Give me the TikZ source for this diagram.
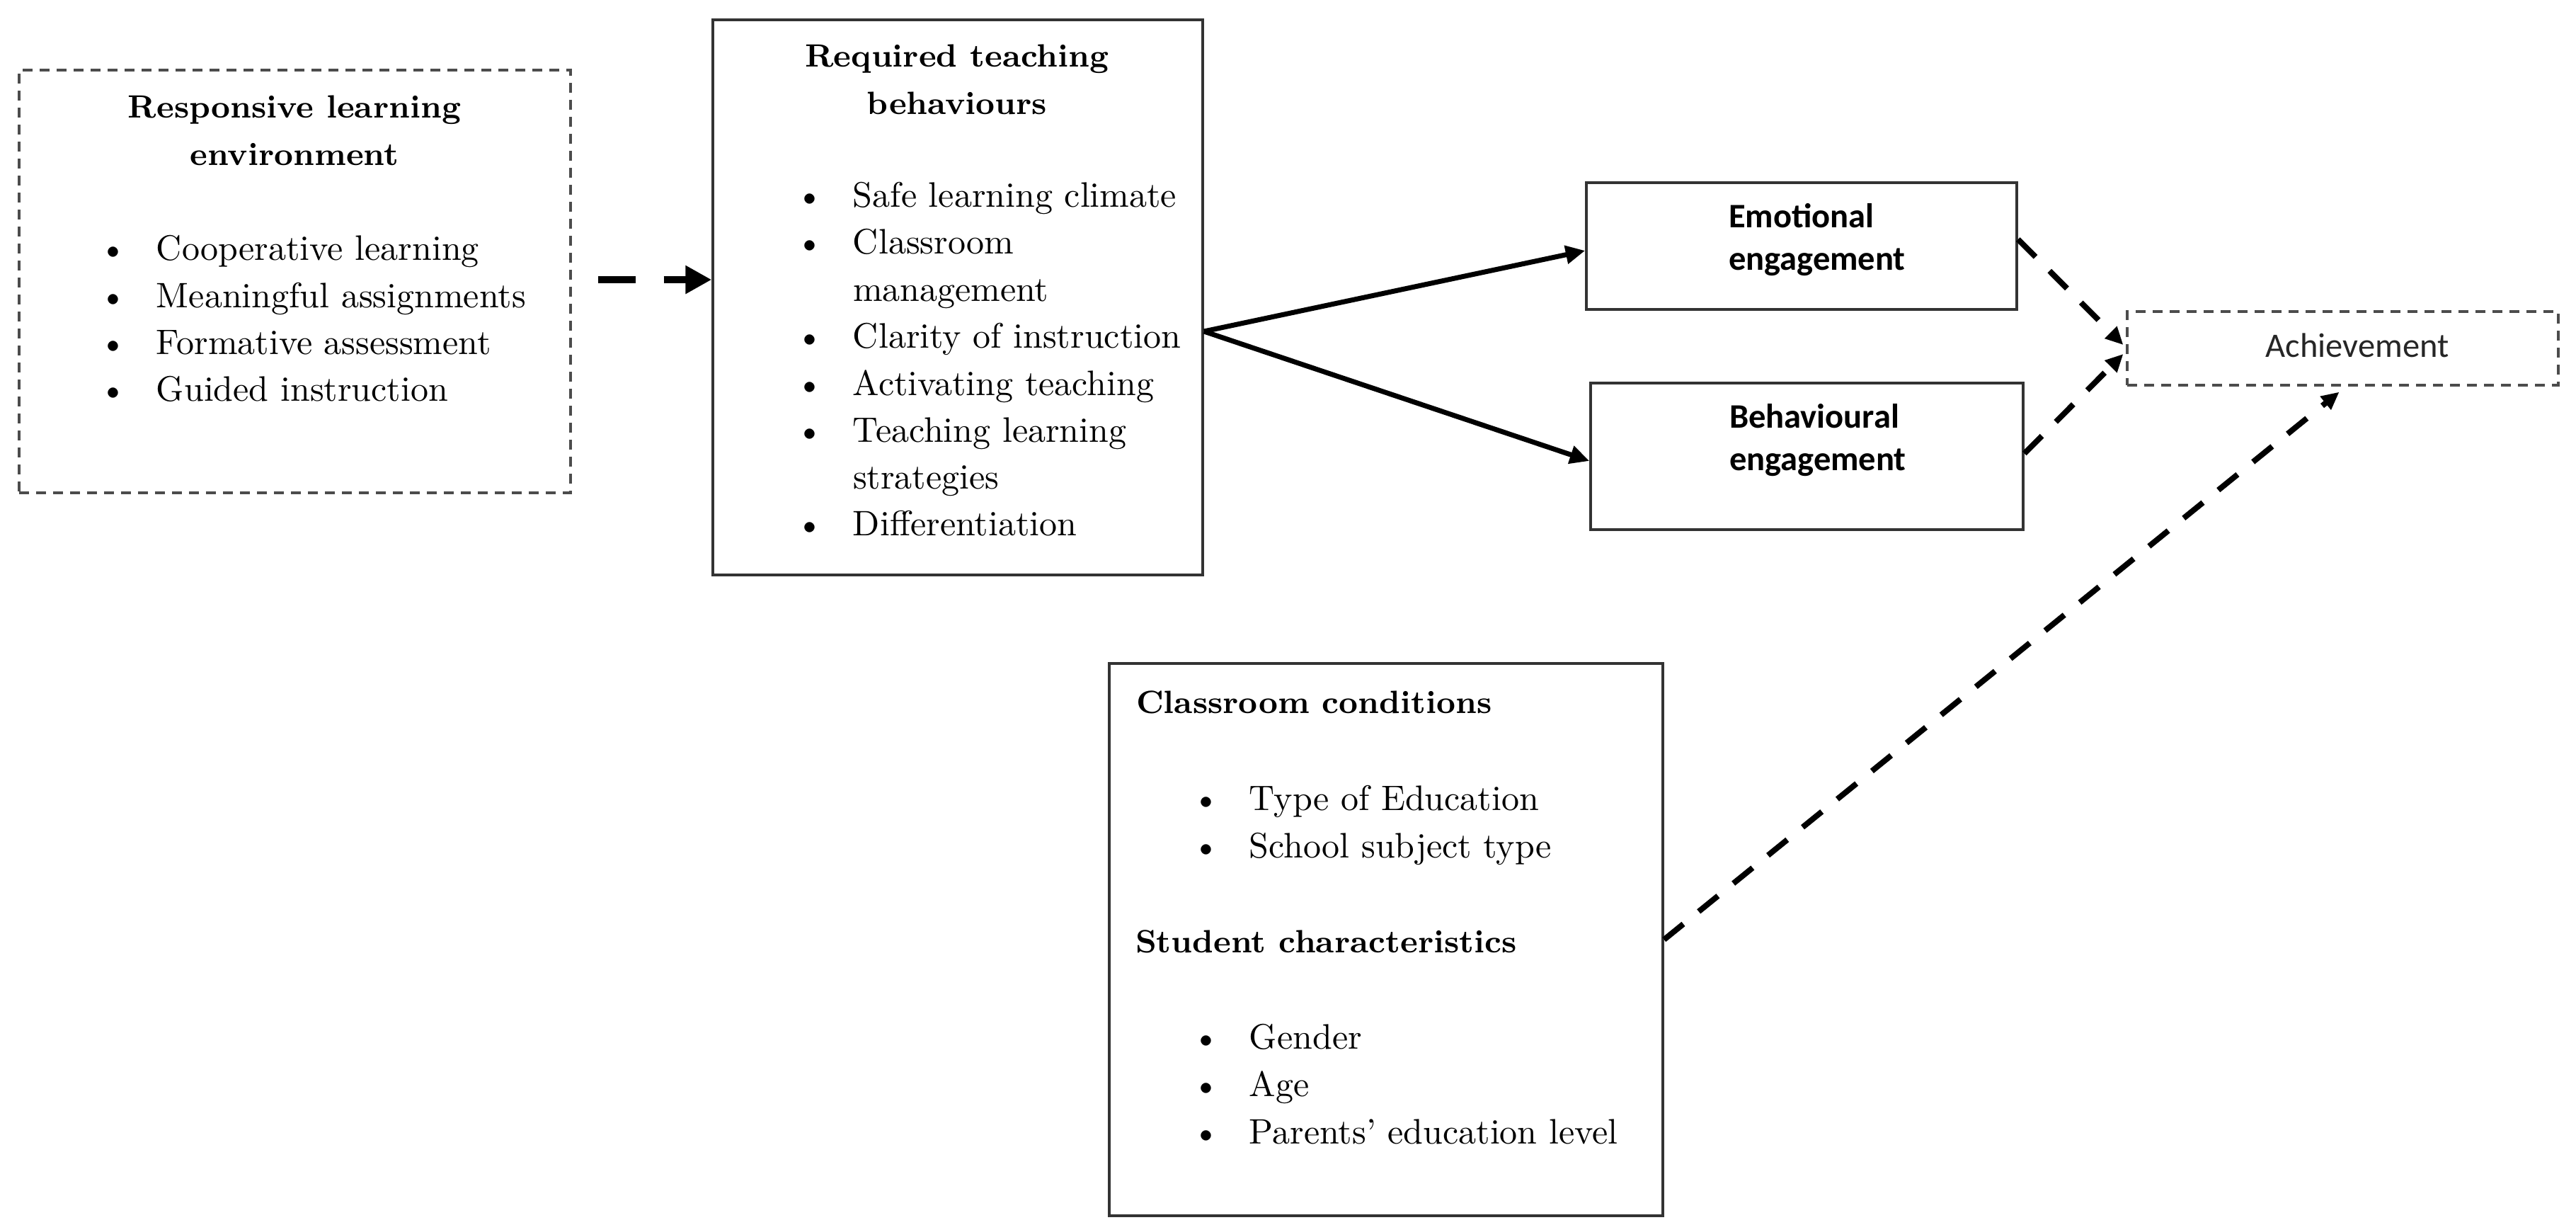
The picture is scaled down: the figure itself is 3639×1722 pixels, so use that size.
\documentclass[tikz,border=0pt]{standalone}
\usepackage{fontspec}
\newfontfamily\calibrifont{Carlito}
\usetikzlibrary{arrows.meta}
\newcommand\bitem[1]{\makebox[16.2pt][l]{\textbullet}#1}
\begin{document}
\begin{tikzpicture}[x=0.2pt,y=-0.2pt,
  solidbox/.style={draw=black!80,line width=0.7pt,rectangle,inner sep=0pt},
  dashbox/.style={draw=black!70,line width=0.65pt,dash pattern=on 2.8pt off 2pt,rectangle,inner sep=0pt},
  body/.style={inner sep=0pt,anchor=base west,font=\fontsize{10}{13}\selectfont},
  head/.style={inner sep=0pt,font=\fontsize{9.1}{13}\selectfont\bfseries},
  cal/.style={inner sep=0pt,anchor=base west,font=\calibrifont\fontsize{9.7}{12}\selectfont\bfseries},
  solidarrow/.style={line width=1.4pt,-{Triangle[length=5.5pt,width=5pt]}},
  dasharrow/.style={line width=1.6pt,dash pattern=on 7pt off 5.6pt,-{Triangle[length=5pt,width=4.6pt]}},
  bigdash/.style={line width=2pt,dash pattern=on 10.6pt off 8pt,-{Triangle[length=7.4pt,width=7.6pt]}}
]
\useasboundingbox (0,0) rectangle (3639,1722);

% Box 1: responsive learning environment
\node[dashbox,minimum width=155.8pt,minimum height=119.4pt] (b1) at (416.5,397.5) {};
\node[head,anchor=base] (b1h1) at (416,166) {Responsive learning};
\node[head,anchor=base] (b1h2) at (416,233) {environment};
\node[body] (b1l1) at (139,367) {\bitem{Cooperative learning}};
\node[body] (b1l2) at (139,434) {\bitem{Meaningful assignments}};
\node[body] (b1l3) at (139,500) {\bitem{Formative assessment}};
\node[body] (b1l4) at (139,566) {\bitem{Guided instruction}};

% Box 2: required teaching behaviours
\node[solidbox,minimum width=138.4pt,minimum height=156.8pt] (b2) at (1353,420) {};
\node[head,anchor=base] (b2h1) at (1352,94) {Required teaching};
\node[head,anchor=base] (b2h2) at (1352,161) {behaviours};
\node[body] (b2l1) at (1123,292) {\bitem{Safe learning climate}};
\node[body] (b2l2) at (1123,358) {\bitem{Classroom}};
\node[body] (b2l3) at (1204,425) {management};
\node[body] (b2l4) at (1123,491) {\bitem{Clarity of instruction}};
\node[body] (b2l5) at (1123,558) {\bitem{Activating teaching}};
\node[body] (b2l6) at (1123,624) {\bitem{Teaching learning}};
\node[body] (b2l7) at (1204,690) {strategies};
\node[body] (b2l8) at (1123,756) {\bitem{Differentiation}};

% Engagement boxes
\node[solidbox,minimum width=121.6pt,minimum height=35.8pt] (E) at (2545,347.5) {};
\node[cal] (Et1) at (2441,321) {Emotional};
\node[cal] (Et2) at (2441,381) {engagement};
\node[solidbox,minimum width=122.2pt,minimum height=41.4pt] (B) at (2552.5,644.5) {};
\node[cal] (Bt1) at (2442,604) {Behavioural};
\node[cal] (Bt2) at (2442,664) {engagement};

% Achievement
\node[dashbox,minimum width=121.8pt,minimum height=20.8pt] (A) at (3309.5,492) {};
\node[inner sep=0pt,anchor=base,text=black!85,font=\calibrifont\fontsize{9.7}{12}\selectfont] (At) at (3330,504) {Achievement};

% Classroom conditions / student characteristics
\node[solidbox,minimum width=156.4pt,minimum height=156pt] (C) at (1958,1327) {};
\node[head,anchor=base west] (Ch1) at (1604,1007) {Classroom conditions};
\node[body] (Cl1) at (1683,1144) {\bitem{Type of Education}};
\node[body] (Cl2) at (1683,1211) {\bitem{School subject type}};
\node[head,anchor=base west] (Ch2) at (1603,1345) {Student characteristics};
\node[body] (Cl3) at (1683,1481) {\bitem{Gender}};
\node[body] (Cl4) at (1683,1548) {\bitem{Age}};
\node[body] (Cl5) at (1683,1615) {\bitem{Parents’ education level}};

% Connectors
\coordinate (s1) at ([xshift=7.4pt,yshift=0.5pt]b1.east);
\draw[bigdash] (s1) -- (b2.west |- s1);
\coordinate (s2) at ([yshift=-9.6pt]b2.east);
\draw[solidarrow] (s2) -- ([yshift=-1.3pt]E.west);
\draw[solidarrow] (s2) -- ([yshift=-1.3pt]B.west);
\draw[dasharrow] ([yshift=1.9pt]E.east) -- ([xshift=-0.8pt,yshift=1pt]A.west);
\draw[dasharrow] ([yshift=0.8pt]B.east) -- ([xshift=-0.8pt,yshift=-1.6pt]A.west);
\draw[dasharrow] (C.east) -- ([xshift=-1pt,yshift=-1.6pt]A.south);
\end{tikzpicture}
\end{document}
